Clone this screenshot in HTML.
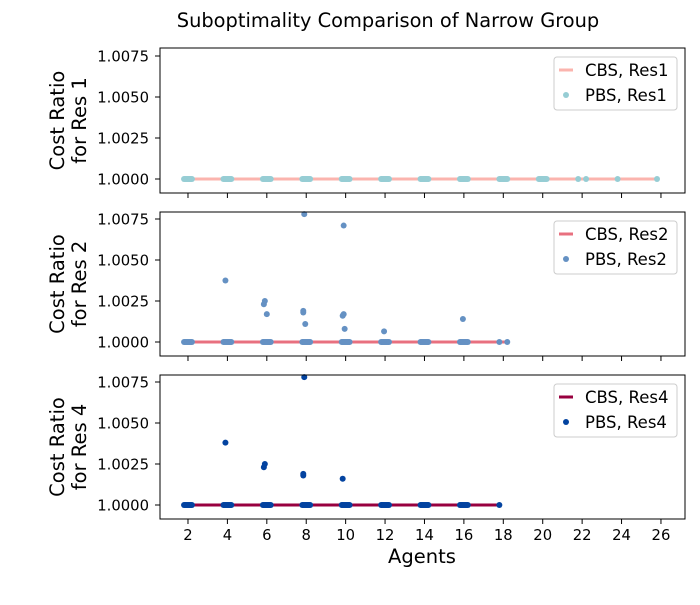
<!DOCTYPE html>
<html><head><meta charset="utf-8"><style>
body{margin:0;background:#fff;width:700px;height:600px;overflow:hidden}
text{font-family:"DejaVu Sans","Liberation Sans",sans-serif;fill:#000}
</style></head><body>
<svg id="chart" width="700" height="600" xmlns="http://www.w3.org/2000/svg"></svg>
<script>
const xTicks=[2,4,6,8,10,12,14,16,18,20,22,24,26];
const yTicks=[1.0,1.0025,1.005,1.0075];
const yTickLabels=["1.0000","1.0025","1.0050","1.0075"];
const clusterCenters1=[2,4,6,8,10,12,14,16,18,20];
const clusterCenters2=[2,4,6,8,10,12,14,16];
const clusterCenters3=[2,4,6,8,10,12,14,16];
const jitter=[-0.2,-0.15,-0.1,-0.05,0,0.05,0.1,0.15,0.2];
const extraX1=[21.8,22.2,23.8,25.8];
const extraY1=[1,1,1,1];
const outX2=[3.9,5.85,5.9,6.0,7.9,7.85,7.85,7.95,9.9,9.85,9.9,9.95,11.95,15.95,17.8,18.2];
const outY2=[1.00375,1.0023,1.0025,1.0017,1.0078,1.0019,1.0018,1.0011,1.0071,1.0016,1.0017,1.0008,1.00065,1.0014,1.0,1.0];
const outX3=[3.9,5.85,5.9,7.85,7.85,7.9,9.85,17.8];
const outY3=[1.0038,1.0023,1.0025,1.0018,1.0019,1.0078,1.0016,1.0];
const lineRange1=[1.8,25.8], lineRange2=[1.8,18.2], lineRange3=[1.8,17.8];
const panels=[
 {top:48,bottom:193,centers:clusterCenters1,ox:extraX1,oy:extraY1,lr:lineRange1,lc:"#fbb4ae",pc:"#96cdd4",lab:["CBS, Res1","PBS, Res1"],yl:["Cost Ratio","for Res 1"],n:"res1"},
 {top:212,bottom:356,centers:clusterCenters2,ox:outX2,oy:outY2,lr:lineRange2,lc:"#e8707f",pc:"#6591c3",lab:["CBS, Res2","PBS, Res2"],yl:["Cost Ratio","for Res 2"],n:"res2"},
 {top:375,bottom:519,centers:clusterCenters3,ox:outX3,oy:outY3,lr:lineRange3,lc:"#98003f",pc:"#0343a0",lab:["CBS, Res4","PBS, Res4"],yl:["Cost Ratio","for Res 4"],n:"res4"}
];
const svg=document.getElementById('chart');
const NS="http://www.w3.org/2000/svg";
function mk(t,a,txt){const e=document.createElementNS(NS,t);for(const k in a)e.setAttribute(k,a[k]);if(txt!==undefined)e.textContent=txt;svg.appendChild(e);return e;}
const L=160,R=685;
const sx=v=>L+(v-0.58)/(27.22-0.58)*(R-L);
panels.forEach((p,i)=>{
 const sy=v=>(p.bottom-14)-(v-1.0)/0.0075*123;
 const g0=mk('rect',{x:L,y:p.top,width:R-L,height:p.bottom-p.top,fill:'#fff',stroke:'none'});
 
 
 const ln=mk('line',{x1:sx(p.lr[0]),x2:sx(p.lr[1]),y1:sy(1),y2:sy(1),stroke:p.lc,'stroke-width':3});
 
 
 p.centers.forEach(c=>jitter.forEach(j=>{
  const d=mk('circle',{cx:sx(c+j),cy:sy(1),r:3,fill:p.pc});
  
  
 }));
 p.ox.forEach((x,k)=>{
  const d=mk('circle',{cx:sx(x),cy:sy(p.oy[k]),r:3,fill:p.pc});
  
  
 });
 const fr=mk('rect',{x:L,y:p.top,width:R-L,height:p.bottom-p.top,fill:'none',stroke:'#000','stroke-width':1});
 
 
 yTicks.forEach((v,k)=>{
  mk('line',{x1:L-5,x2:L,y1:sy(v),y2:sy(v),stroke:'#000'});
  const t=mk('text',{x:L-11,y:sy(v)+5.5,'text-anchor':'end','font-size':14.8},yTickLabels[k]);
  
  
 });
 xTicks.forEach(v=>{
  mk('line',{x1:sx(v),x2:sx(v),y1:p.bottom,y2:p.bottom+5,stroke:'#000'});
  if(i===2){const t=mk('text',{x:sx(v),y:p.bottom+21,'text-anchor':'middle','font-size':14.8},String(v));
   
   }
 });
 const cy=(p.top+p.bottom)/2;
 const yt=mk('text',{x:0,y:0,'text-anchor':'middle','font-size':19.5,transform:`translate(64,${cy}) rotate(-90)`});
 
 
 const a=document.createElementNS(NS,'tspan');a.setAttribute('x',0);a.setAttribute('y',0);a.textContent=p.yl[0];yt.appendChild(a);
 const b=document.createElementNS(NS,'tspan');b.setAttribute('x',0);b.setAttribute('y',22);b.textContent=p.yl[1];yt.appendChild(b);
 const lg=mk('rect',{x:554,y:p.top+9,width:123,height:53,rx:3,fill:'#fff',stroke:'#ccc','fill-opacity':0.8});
 
 
 mk('line',{x1:559,x2:573,y1:p.top+22,y2:p.top+22,stroke:p.lc,'stroke-width':3});
 const t1=mk('text',{x:585,y:p.top+28,'font-size':16.5},p.lab[0]);
 
 
 mk('circle',{cx:566,cy:p.top+47,r:3,fill:p.pc});
 const t2=mk('text',{x:585,y:p.top+53,'font-size':16.5},p.lab[1]);
 
 
});
const ti=mk('text',{x:388,y:27,'text-anchor':'middle','font-size':19.4},'Suboptimality Comparison of Narrow Group');


const xt=mk('text',{x:422,y:563,'text-anchor':'middle','font-size':19.5},'Agents');


</script>
</body></html>
